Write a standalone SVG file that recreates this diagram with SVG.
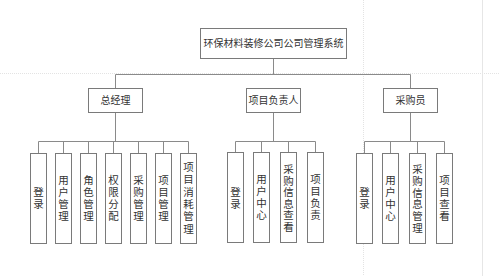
<svg xmlns="http://www.w3.org/2000/svg" width="499" height="276" viewBox="0 0 499 276">
<style>
.bg{fill:#ffffff}
.guide{stroke:#e6e6e6;stroke-width:1;fill:none}
.dot{stroke:#e3e3e3;stroke-width:1;stroke-dasharray:1 1;fill:none}
.box{fill:#ffffff;stroke:#7a7a7a;stroke-width:1}
.conn line{stroke:#8a8a8a;stroke-width:1}
.t{font-family:"Noto Sans CJK SC","Noto Sans",sans-serif;font-size:10px;fill:#333333;text-anchor:middle}
.v{font-family:"Noto Sans CJK SC","Noto Sans",sans-serif;font-size:10.5px;fill:#333333;text-anchor:middle}
</style>
<rect class="bg" x="0" y="0" width="499" height="276"/>
<g id="page-guides">
<line class="dot" x1="0" y1="73.5" x2="499" y2="73.5"/>
<line class="dot" x1="363.5" y1="0" x2="363.5" y2="276"/>
<line class="guide" x1="482.5" y1="0" x2="482.5" y2="276"/>
</g>
<g id="connectors" class="conn">
<line x1="273.5" y1="58" x2="273.5" y2="74.5"/>
<line x1="115.5" y1="74.5" x2="410.5" y2="74.5"/>
<line x1="115.5" y1="74.5" x2="115.5" y2="88"/>
<line x1="410.5" y1="74.5" x2="410.5" y2="88"/>
<line x1="115.5" y1="112" x2="115.5" y2="141.5"/>
<line x1="38.5" y1="141.5" x2="188.5" y2="141.5"/>
<line x1="38.5" y1="141.5" x2="38.5" y2="153"/>
<line x1="63.5" y1="141.5" x2="63.5" y2="153"/>
<line x1="88.5" y1="141.5" x2="88.5" y2="153"/>
<line x1="113.5" y1="141.5" x2="113.5" y2="153"/>
<line x1="138.5" y1="141.5" x2="138.5" y2="153"/>
<line x1="163.5" y1="141.5" x2="163.5" y2="153"/>
<line x1="188.5" y1="141.5" x2="188.5" y2="153"/>
<line x1="273.5" y1="112" x2="273.5" y2="141.5"/>
<line x1="235.5" y1="141.5" x2="315.5" y2="141.5"/>
<line x1="235.5" y1="141.5" x2="235.5" y2="152"/>
<line x1="261.5" y1="141.5" x2="261.5" y2="152"/>
<line x1="288.5" y1="141.5" x2="288.5" y2="152"/>
<line x1="315.5" y1="141.5" x2="315.5" y2="152"/>
<line x1="410.5" y1="112" x2="410.5" y2="141.5"/>
<line x1="364.5" y1="141.5" x2="444.5" y2="141.5"/>
<line x1="364.5" y1="141.5" x2="364.5" y2="153"/>
<line x1="390.5" y1="141.5" x2="390.5" y2="153"/>
<line x1="417.5" y1="141.5" x2="417.5" y2="153"/>
<line x1="444.5" y1="141.5" x2="444.5" y2="153"/>
</g>
<g id="root"><rect class="box" x="200.5" y="28.5" width="146" height="30"/><text class="t" x="273.5" y="47">环保材料装修公司公司管理系统</text></g>
<g id="n-zjl"><rect class="box" x="88.5" y="88.5" width="54" height="24"/><text class="t" x="115.5" y="104">总经理</text></g>
<g id="n-xmfzr"><rect class="box" x="246.5" y="88.5" width="54" height="24"/><text class="t" x="273.5" y="104">项目负责人</text></g>
<g id="n-cgy"><rect class="box" x="383.5" y="88.5" width="54" height="24"/><text class="t" x="410.5" y="104">采购员</text></g>

<g id="a1"><rect class="box" x="30.5" y="153.5" width="16" height="90"/><text class="v" x="38.5"><tspan x="38.5" y="196">登</tspan><tspan x="38.5" y="208">录</tspan></text></g>
<g id="a2"><rect class="box" x="55.5" y="153.5" width="16" height="90"/><text class="v"><tspan x="63.5" y="184">用</tspan><tspan x="63.5" y="196">户</tspan><tspan x="63.5" y="208">管</tspan><tspan x="63.5" y="220">理</tspan></text></g>
<g id="a3"><rect class="box" x="80.5" y="153.5" width="16" height="90"/><text class="v"><tspan x="88.5" y="184">角</tspan><tspan x="88.5" y="196">色</tspan><tspan x="88.5" y="208">管</tspan><tspan x="88.5" y="220">理</tspan></text></g>
<g id="a4"><rect class="box" x="105.5" y="153.5" width="16" height="90"/><text class="v"><tspan x="113.5" y="184">权</tspan><tspan x="113.5" y="196">限</tspan><tspan x="113.5" y="208">分</tspan><tspan x="113.5" y="220">配</tspan></text></g>
<g id="a5"><rect class="box" x="130.5" y="153.5" width="16" height="90"/><text class="v"><tspan x="138.5" y="184">采</tspan><tspan x="138.5" y="196">购</tspan><tspan x="138.5" y="208">管</tspan><tspan x="138.5" y="220">理</tspan></text></g>
<g id="a6"><rect class="box" x="155.5" y="153.5" width="16" height="90"/><text class="v"><tspan x="163.5" y="184">项</tspan><tspan x="163.5" y="196">目</tspan><tspan x="163.5" y="208">管</tspan><tspan x="163.5" y="220">理</tspan></text></g>
<g id="a7"><rect class="box" x="180.5" y="153.5" width="16" height="90"/><text class="v"><tspan x="188.5" y="171">项</tspan><tspan x="188.5" y="183.3">目</tspan><tspan x="188.5" y="195.6">消</tspan><tspan x="188.5" y="207.9">耗</tspan><tspan x="188.5" y="220.2">管</tspan><tspan x="188.5" y="232.5">理</tspan></text></g>

<g id="b1"><rect class="box" x="227.5" y="152.5" width="16" height="90"/><text class="v"><tspan x="235.5" y="196">登</tspan><tspan x="235.5" y="208">录</tspan></text></g>
<g id="b2"><rect class="box" x="253.5" y="152.5" width="16" height="90"/><text class="v"><tspan x="261.5" y="183">用</tspan><tspan x="261.5" y="195">户</tspan><tspan x="261.5" y="207">中</tspan><tspan x="261.5" y="219">心</tspan></text></g>
<g id="b3"><rect class="box" x="280.5" y="152.5" width="16" height="90"/><text class="v"><tspan x="288.5" y="173">采</tspan><tspan x="288.5" y="184.5">购</tspan><tspan x="288.5" y="196">信</tspan><tspan x="288.5" y="207.5">息</tspan><tspan x="288.5" y="219">查</tspan><tspan x="288.5" y="230.5">看</tspan></text></g>
<g id="b4"><rect class="box" x="307.5" y="152.5" width="16" height="90"/><text class="v"><tspan x="315.5" y="183">项</tspan><tspan x="315.5" y="195">目</tspan><tspan x="315.5" y="207">负</tspan><tspan x="315.5" y="219">责</tspan></text></g>

<g id="c1"><rect class="box" x="356.5" y="153.5" width="16" height="90"/><text class="v"><tspan x="364.5" y="196">登</tspan><tspan x="364.5" y="208">录</tspan></text></g>
<g id="c2"><rect class="box" x="382.5" y="153.5" width="16" height="90"/><text class="v"><tspan x="390.5" y="184">用</tspan><tspan x="390.5" y="196">户</tspan><tspan x="390.5" y="208">中</tspan><tspan x="390.5" y="220">心</tspan></text></g>
<g id="c3"><rect class="box" x="409.5" y="153.5" width="16" height="90"/><text class="v"><tspan x="417.5" y="173">采</tspan><tspan x="417.5" y="184.8">购</tspan><tspan x="417.5" y="196.6">信</tspan><tspan x="417.5" y="208.4">息</tspan><tspan x="417.5" y="220.2">管</tspan><tspan x="417.5" y="232">理</tspan></text></g>
<g id="c4"><rect class="box" x="436.5" y="153.5" width="16" height="90"/><text class="v"><tspan x="444.5" y="184">项</tspan><tspan x="444.5" y="196">目</tspan><tspan x="444.5" y="208">查</tspan><tspan x="444.5" y="220">看</tspan></text></g>
</svg>
